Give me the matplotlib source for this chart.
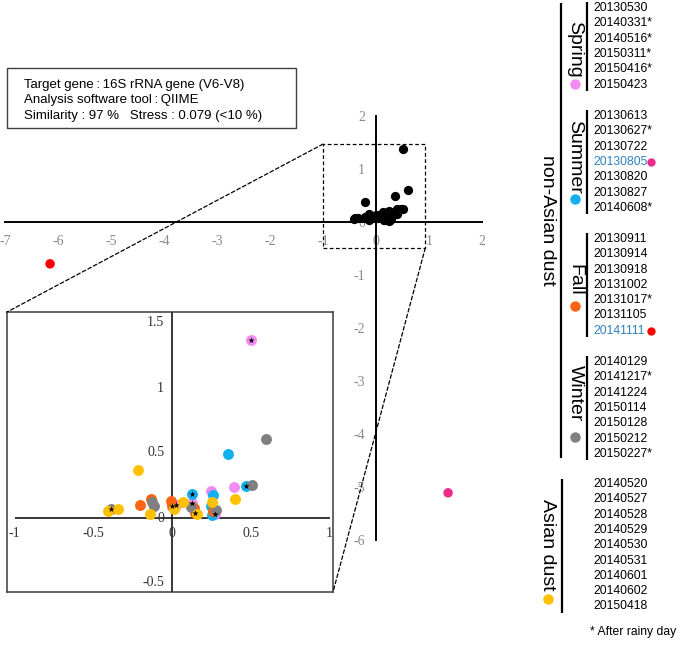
import matplotlib
matplotlib.use("Agg")
import matplotlib.pyplot as plt
from matplotlib.patches import Rectangle, ConnectionPatch

plt.rcParams["axes.unicode_minus"] = False

# NMDS coordinates (inset cluster)
spring_x = [0.50, 0.392, 0.25, 0.127, 0.273, 0.025]
spring_y = [1.373, 0.240, 0.21, 0.115, 0.031, 0.102]
spring_star = [1, 0, 0, 1, 1, 1]

summer_x = [0.358, 0.472, 0.258, 0.127, 0.246, 0.254]
summer_y = [0.496, 0.248, 0.174, 0.185, 0.095, 0.026]
summer_star = [0, 1, 0, 1, 0, 0]

fall_x = [0.263, 0.142, 0.144, -0.008, -0.133, -0.201, 0.0]
fall_y = [0.056, 0.074, 0.038, 0.133, 0.146, 0.10, 0.092]
fall_star = [0, 0, 1, 0, 0, 0, 1]

winter_x = [0.595, 0.51, 0.119, 0.28, -0.129, -0.112, -0.39]
winter_y = [0.611, 0.251, 0.082, 0.061, 0.120, 0.090, 0.069]
winter_star = [0, 0, 0, 0, 0, 0, 1]

asian_x = [-0.216, 0.40, 0.068, 0.157, 0.256, 0.011, -0.138, -0.345, -0.409]
asian_y = [0.368, 0.148, 0.123, 0.033, 0.120, 0.069, 0.033, 0.072, 0.054]
asian_star = [0, 0, 0, 0, 0, 0, 0, 0, 0]

# outliers (only in the main plot)
out_x = [-6.15, 1.36]
out_y = [-0.79, -5.11]
out_colors = ["#ff0000", "#ee2a8a"]

main_xticks = list(range(-7, 3))
main_yticks = list(range(-6, 3))
inset_xticks = [-1, -0.5, 0, 0.5, 1]
inset_yticks = [-0.5, 0, 0.5, 1, 1.5]

spring_dates = ["20130530", "20140331*", "20140516*", "20150311*", "20150416*", "20150423"]
summer_dates = ["20130613", "20130627*", "20130722", "20130805", "20130820", "20130827", "20140608*"]
fall_dates = ["20130911", "20130914", "20130918", "20131002", "20131017*", "20131105", "20141111"]
winter_dates = ["20140129", "20141217*", "20141224", "20150114", "20150128", "20150212", "20150227*"]
asian_dates = ["20140520", "20140527", "20140528", "20140529", "20140530", "20140531",
               "20140601", "20140602", "20150418"]

c_spring = "#f28cf0"
c_summer = "#12b0ef"
c_fall = "#fa6414"
c_winter = "#808080"
c_asian = "#ffc000"

groups = [
    (spring_x, spring_y, spring_star, c_spring),
    (summer_x, summer_y, summer_star, c_summer),
    (fall_x, fall_y, fall_star, c_fall),
    (winter_x, winter_y, winter_star, c_winter),
    (asian_x, asian_y, asian_star, c_asian),
]

W, H = 685, 645
fig = plt.figure(figsize=(W / 100, H / 100), dpi=100)

# main NMDS plot: origin at pixel (376, 222), 53 px per unit
ppu = 53.0
ax = fig.add_axes([0, 0, 1, 1])
ax.set_xlim(-376 / ppu, (W - 376) / ppu)
ax.set_ylim(-(H - 222) / ppu, 222 / ppu)
ax.patch.set_alpha(0)
for s in ["top", "right"]:
    ax.spines[s].set_visible(False)
ax.spines["left"].set_position(("data", 0))
ax.spines["bottom"].set_position(("data", 0))
ax.spines["left"].set_bounds(-6, 2)
ax.spines["bottom"].set_bounds(-7, 2)
for s in ["left", "bottom"]:
    ax.spines[s].set_linewidth(1.4)
ax.set_xticks(main_xticks)
ax.set_yticks(main_yticks)
ax.tick_params(length=0, labelcolor="#8a8a8a", labelsize=10)
ax.tick_params(axis="x", pad=9)
ax.tick_params(axis="y", pad=8)
for lab in ax.get_xticklabels() + ax.get_yticklabels():
    lab.set_fontfamily("Liberation Serif")

for gx, gy, gs, gc in groups:
    ax.scatter(gx, gy, s=32, color="black", zorder=3)
ax.scatter(out_x, out_y, s=34, color=out_colors, zorder=3)

ax.add_patch(Rectangle((-1.0, -0.49), 1.93, 1.96, fill=False, ls=(0, (3, 2)),
                       lw=0.9, edgecolor="black"))

# inset (zoomed region)
ix0, ix1, iy0, iy1 = 7, 333, 312, 592
ax_in = fig.add_axes([ix0 / W, 1 - iy1 / H, (ix1 - ix0) / W, (iy1 - iy0) / H])
xs, ys = 157.5, 130.0
ax_in.set_xlim((ix0 - 172) / xs, (ix1 - 172) / xs)
ax_in.set_ylim((518 - iy1) / ys, (518 - iy0) / ys)
ax_in.set_xticks([])
ax_in.set_yticks([])
for s in ax_in.spines.values():
    s.set_linewidth(1.1)
    s.set_edgecolor("#3a3a3a")
ax_in.axvline(0, color="black", lw=1.1, zorder=1)
ax_in.hlines(0, -1, 1, color="black", lw=1.1, zorder=1)
for t in inset_xticks:
    ax_in.text(t, -0.123, "%g" % t, ha="center", va="center", fontsize=10,
               family="Liberation Serif", color="#333333")
for t in inset_yticks:
    ax_in.text(-0.05, t, "%g" % t, ha="right", va="center", fontsize=10,
               family="Liberation Serif", color="#333333")

for gx, gy, gs, gc in groups:
    ax_in.scatter(gx, gy, s=62, color=gc, zorder=3, linewidths=0)
    sx = [x for x, f in zip(gx, gs) if f]
    sy = [y for y, f in zip(gy, gs) if f]
    ax_in.scatter(sx, sy, s=22, marker="*", color="black", zorder=4, linewidths=0)

fig.add_artist(ConnectionPatch(xyA=(-1.0, 1.47), coordsA=ax.transData,
                               xyB=(0, 1), coordsB=ax_in.transAxes,
                               ls=(0, (3, 2)), lw=0.9, color="black"))
fig.add_artist(ConnectionPatch(xyA=(0.93, -0.49), coordsA=ax.transData,
                               xyB=(1, 0), coordsB=ax_in.transAxes,
                               ls=(0, (3, 2)), lw=0.9, color="black"))

# overlay in pixel units for the text box and the legend
lay = fig.add_axes([0, 0, 1, 1], zorder=5)
lay.set_xlim(0, W)
lay.set_ylim(H, 0)
lay.axis("off")

sans = "Liberation Sans"
lay.add_patch(Rectangle((7, 68), 289, 60, fill=False, lw=1.0, edgecolor="#404040"))
info = ["Target gene\u2009:\u200916S rRNA gene (V6-V8)",
        "Analysis software tool\u2009:\u2009QIIME",
        "Similarity : 97 %   Stress : 0.079 (<10 %)"]
for i, line in enumerate(info):
    lay.text(24, 85 + i * 15.5, line, fontsize=9.5, family=[sans, "DejaVu Sans"],
             va="center", ha="left")

row = 15.3
lay.vlines(561, 3, 458, color="black", lw=1.6)
lay.text(548, 220, "non-Asian dust", rotation=-90, fontsize=14, family=sans,
         ha="center", va="center")

season_legend = [
    ("Spring", spring_dates, c_spring, 8, 49, 84),
    ("Summer", summer_dates, c_summer, 116, 157, 199),
    ("Fall", fall_dates, c_fall, 239, 280, 306),
    ("Winter", winter_dates, c_winter, 362, 393, 437),
]
special = {"20130805": "#ee2a8a", "20141111": "#ff0000"}
for name, dates, col, y0, ty, dy in season_legend:
    y_last = y0 + (len(dates) - 1) * row
    lay.vlines(587, y0 - 6, y_last + 6, color="black", lw=1.6)
    lay.text(575, ty, name, rotation=-90, fontsize=14, family=sans,
             ha="center", va="center")
    lay.plot(575, dy, "o", ms=7.5, color=col, mec="none")
    for i, d in enumerate(dates):
        yy = y0 + i * row
        if d in special:
            lay.text(593, yy, d, fontsize=8.7, family=sans, va="center",
                     color="#2f80c0")
            lay.plot(651, yy, "o", ms=6, color=special[d], mec="none")
        else:
            lay.text(593, yy, d, fontsize=8.7, family=sans, va="center")

y0 = 484
y_last = y0 + (len(asian_dates) - 1) * row
lay.vlines(562, y0 - 5, y_last + 7, color="black", lw=1.6)
lay.text(548, 545, "Asian dust", rotation=-90, fontsize=14, family=sans,
         ha="center", va="center")
lay.plot(548, 599, "o", ms=7.5, color=c_asian, mec="none")
for i, d in enumerate(asian_dates):
    lay.text(593, y0 + i * row, d, fontsize=8.7, family=sans, va="center")

lay.text(590, 632, "* After rainy day", fontsize=8.7, family=sans, va="center")

fig.savefig("out.png", dpi=100)
